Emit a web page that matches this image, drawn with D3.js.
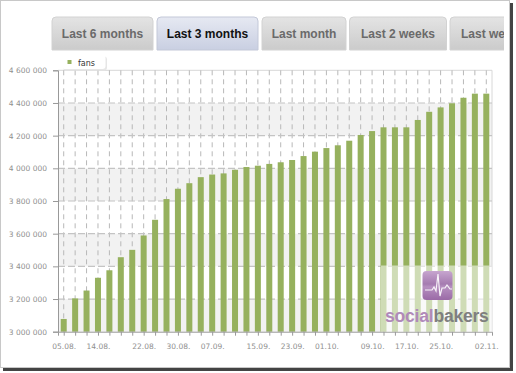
<!DOCTYPE html>
<html>
<head>
<meta charset="utf-8">
<script src="https://cdn.jsdelivr.net/npm/d3@7"></script>
<style>
  body { margin:0; background:#fff; }
  svg { display:block; font-family: "Liberation Sans", Arial, sans-serif; }
</style>
</head>
<body>
<svg id="chart" width="516" height="373"></svg>
<script>
var dates = ['05.08.','08.08.','11.08.','14.08.','16.08.','18.08.','20.08.','22.08.','25.08.','28.08.',
  '30.08.','02.09.','05.09.','07.09.','09.09.','11.09.','13.09.','15.09.','18.09.','21.09.',
  '23.09.','26.09.','29.09.','01.10.','03.10.','05.10.','07.10.','09.10.','12.10.','15.10.',
  '17.10.','20.10.','23.10.','25.10.','27.10.','29.10.','31.10.','02.11.'];
var fans = [3078000,3204000,3252000,3330000,3376000,3456000,3501000,3589000,3685000,3812000,
  3875000,3909000,3946000,3962000,3969000,3991000,4008000,4016000,4027000,4037000,
  4051000,4075000,4102000,4124000,4141000,4169000,4204000,4228000,4251000,4251000,
  4251000,4296000,4346000,4373000,4398000,4432000,4457000,4457000];
var tickDates = ['05.08.','14.08.','22.08.','30.08.','07.09.','15.09.','23.09.','01.10.','09.10.','17.10.','25.10.','02.11.'];
var yTicks = [3000000,3200000,3400000,3600000,3800000,4000000,4200000,4400000,4600000];
var tabs = ['Last 6 months','Last 3 months','Last month','Last 2 weeks','Last week'];
var selectedTab = 'Last 3 months';

var drawChart = function(){
  var svg = d3.select('#chart');
  var pLeft = 58, pRight = 492, pTop = 70.3, pBottom = 331.7;

  var x = d3.scalePoint().domain(dates).range([pLeft, pRight]).padding(0.5);
  var y = d3.scaleLinear().domain([3000000, 4600000]).range([pBottom, pTop]);
  var fmt = function(v){ return d3.format(',')(v).replace(/,/g, ' '); };

  // frame with shadow
  svg.append('rect').attr('x', 3).attr('y', 3).attr('width', 510).attr('height', 368).attr('fill', '#444');
  svg.append('rect').attr('x', 0.5).attr('y', 0.5).attr('width', 509).attr('height', 367)
    .attr('fill', '#fff').attr('stroke', '#c8c8c8');

  // tabs
  var defs = svg.append('defs');
  var g1 = defs.append('linearGradient').attr('id', 'tabGrey').attr('x1', 0).attr('y1', 0).attr('x2', 0).attr('y2', 1);
  g1.append('stop').attr('offset', '0%').attr('stop-color', '#e4e4e4');
  g1.append('stop').attr('offset', '100%').attr('stop-color', '#cbcbcb');
  var g2 = defs.append('linearGradient').attr('id', 'tabSel').attr('x1', 0).attr('y1', 0).attr('x2', 0).attr('y2', 1);
  g2.append('stop').attr('offset', '0%').attr('stop-color', '#e6e9f2');
  g2.append('stop').attr('offset', '100%').attr('stop-color', '#c9cfe2');
  defs.append('clipPath').attr('id', 'tabClip').append('rect').attr('x', 0).attr('y', 0).attr('width', 504).attr('height', 60);

  var tabX = [52, 157, 262, 349.5, 450];
  var tabW = [101, 101, 84, 97, 100];
  var tg = svg.append('g').attr('clip-path', 'url(#tabClip)')
    .selectAll('g').data(tabs).enter().append('g')
    .attr('transform', function(d, i){ return 'translate(' + tabX[i] + ',17)'; });
  tg.append('path')
    .attr('d', function(d, i){ var w = tabW[i]; return 'M0,33V4Q0,0 4,0H' + (w-4) + 'Q' + w + ',0 ' + w + ',4V33Z'; })
    .attr('fill', function(d){ return d === selectedTab ? 'url(#tabSel)' : 'url(#tabGrey)'; })
    .attr('stroke', function(d){ return d === selectedTab ? '#c3c8d8' : '#d2d2d2'; });
  tg.append('text')
    .attr('x', function(d, i){ return i === 4 ? 11 : tabW[i] / 2; })
    .attr('y', 21)
    .attr('text-anchor', function(d, i){ return i === 4 ? 'start' : 'middle'; })
    .attr('font-size', 12).attr('font-weight', 'bold')
    .attr('fill', function(d){ return d === selectedTab ? '#111' : '#6a6a6a'; })
    .text(function(d){ return d; });

  // alternating bands
  var bands = d3.range(0, yTicks.length - 1, 2);
  svg.append('g').selectAll('rect').data(bands).enter().append('rect')
    .attr('x', pLeft).attr('width', pRight - pLeft)
    .attr('y', function(i){ return y(yTicks[i + 1]); })
    .attr('height', function(i){ return y(yTicks[i]) - y(yTicks[i + 1]); })
    .attr('fill', '#f2f2f2');

  // frame of plot
  svg.append('path').attr('d', 'M' + pLeft + ',' + pTop + 'H' + pRight + 'V' + pBottom)
    .attr('fill', 'none').attr('stroke', '#d8d8d8');

  // vertical dashed grid
  svg.append('g').selectAll('line').data(dates).enter().append('line')
    .attr('x1', function(d){ return x(d); }).attr('x2', function(d){ return x(d); })
    .attr('y1', pTop).attr('y2', pBottom)
    .attr('stroke', '#b8b8b8').attr('stroke-dasharray', '5,4');

  // horizontal dashed grid
  svg.append('g').selectAll('line').data(yTicks.slice(1, -1)).enter().append('line')
    .attr('x1', pLeft).attr('x2', pRight)
    .attr('y1', function(d){ return y(d); }).attr('y2', function(d){ return y(d); })
    .attr('stroke', '#c4c4c4').attr('stroke-width', 1.2).attr('stroke-dasharray', '7,3');

  // bars
  svg.append('g').selectAll('rect').data(fans).enter().append('rect')
    .attr('x', function(d, i){ return x(dates[i]) - 3; })
    .attr('width', 6)
    .attr('y', function(d){ return y(d); })
    .attr('height', function(d){ return pBottom - y(d); })
    .attr('fill', '#96b15e');

  // axes
  var yAxis = svg.append('g').attr('transform', 'translate(' + pLeft + ',0)')
    .call(d3.axisLeft(y).tickValues(yTicks).tickFormat(fmt).tickSize(5).tickPadding(6));
  var xAxis = svg.append('g').attr('transform', 'translate(0,' + pBottom + ')')
    .call(d3.axisBottom(x).tickSize(4).tickPadding(8)
      .tickFormat(function(d){ return tickDates.indexOf(d) >= 0 ? d : ''; }));
  [yAxis, xAxis].forEach(function(a){
    a.select('.domain').attr('stroke', '#999');
    a.selectAll('.tick line').attr('stroke', '#999');
    a.selectAll('.tick text').attr('fill', '#8f8f8f')
      .attr('font-family', '"DejaVu Sans", sans-serif').style('font-size', '7.5px');
  });

  // watermark
  svg.append('rect').attr('x', 381).attr('y', 265.5).attr('width', pRight - 381).attr('height', pBottom - 265.5)
    .attr('fill', '#fff').attr('opacity', 0.55);
  var gi = defs.append('linearGradient').attr('id', 'icon').attr('x1', 0).attr('y1', 0).attr('x2', 0).attr('y2', 1);
  gi.append('stop').attr('offset', '0%').attr('stop-color', '#c7a6cf');
  gi.append('stop').attr('offset', '45%').attr('stop-color', '#a57bb0');
  gi.append('stop').attr('offset', '55%').attr('stop-color', '#b690c0');
  gi.append('stop').attr('offset', '100%').attr('stop-color', '#9a6aa6');
  var logo = svg.append('g');
  logo.append('rect').attr('x', 422.5).attr('y', 271).attr('width', 30).attr('height', 29).attr('rx', 4)
    .attr('fill', 'url(#icon)');
  logo.append('path')
    .attr('d', 'M425,290H432L434,287L436,291L438,274L440,296L442,288L445,288L447,285L450,289H452')
    .attr('fill', 'none').attr('stroke', '#fff').attr('stroke-width', 1.2).attr('opacity', 0.9);
  var lt = logo.append('text').attr('x', 385).attr('y', 322).attr('font-size', 17.5).attr('font-weight', 'bold')
    .attr('letter-spacing', -0.2);
  lt.append('tspan').attr('fill', '#b08ab9').text('social');
  lt.append('tspan').attr('fill', '#7f7f7f').text('bakers');

  // legend
  svg.append('rect').attr('x', 63).attr('y', 56.5).attr('width', 44).attr('height', 14).attr('rx', 3)
    .attr('fill', '#e6e6e6');
  svg.append('rect').attr('x', 61.5).attr('y', 55).attr('width', 44).attr('height', 14).attr('rx', 3)
    .attr('fill', '#fff');
  svg.append('rect').attr('x', 67.5).attr('y', 60).attr('width', 4).attr('height', 4).attr('fill', '#96b15e');
  svg.append('text').attr('x', 78).attr('y', 65.5).attr('fill', '#333')
    .attr('font-family', '"DejaVu Sans", sans-serif').style('font-size', '8px').text('fans');
};

drawChart();
</script>
</body>
</html>
